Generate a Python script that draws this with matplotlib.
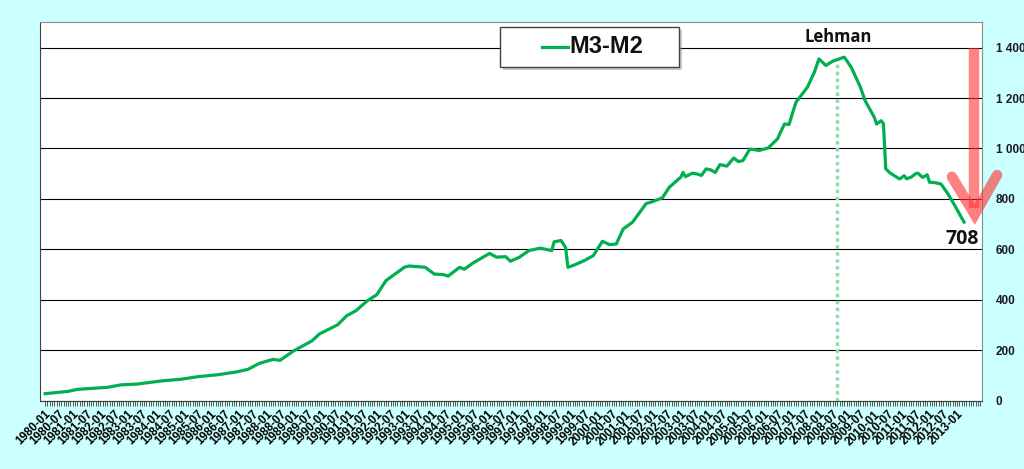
import matplotlib
matplotlib.use("Agg")
import matplotlib.pyplot as plt
from matplotlib.patches import Rectangle
from matplotlib.lines import Line2D

# M3-M2, values (month, level)
dates = ['1980-01', '1980-11', '1981-03', '1982-04', '1982-10', '1983-05', '1984-04',
         '1984-12', '1985-07', '1986-04', '1986-12', '1987-05', '1987-10', '1988-04',
         '1988-07', '1989-01', '1989-09', '1989-12', '1990-08', '1990-12', '1991-04',
         '1991-09', '1992-01', '1992-05', '1992-08', '1993-01', '1993-03', '1993-10',
         '1994-02', '1994-06', '1994-08', '1995-01', '1995-03', '1995-07', '1996-02',
         '1996-05', '1996-09', '1996-11', '1997-03', '1997-07', '1997-12', '1998-05',
         '1998-06', '1998-09', '1998-11', '1998-12', '1999-02', '1999-07', '1999-11',
         '2000-03', '2000-06', '2000-09', '2000-12', '2001-04', '2001-10', '2001-12',
         '2002-05', '2002-08', '2003-01', '2003-02', '2003-03', '2003-06', '2003-08',
         '2003-10', '2003-12', '2004-02', '2004-04', '2004-06', '2004-09', '2004-12',
         '2005-02', '2005-04', '2005-07', '2005-11', '2006-03', '2006-07', '2006-10',
         '2006-12', '2007-03', '2007-08', '2007-11', '2008-01', '2008-04', '2008-07',
         '2008-12', '2009-03', '2009-07', '2009-09', '2010-01', '2010-02', '2010-04',
         '2010-05', '2010-06', '2010-08', '2010-12', '2011-02', '2011-03', '2011-05',
         '2011-07', '2011-08', '2011-10', '2011-12', '2012-01', '2012-03', '2012-06',
         '2012-09', '2012-12', '2013-04']
values = [28, 37, 45, 53, 63, 66, 79,
          85, 95, 103, 114, 124, 148, 164,
          160, 198, 238, 264, 301, 337, 357,
          397, 420, 476, 496, 529, 534, 529,
          502, 500, 494, 529, 521, 547, 584,
          569, 571, 553, 569, 595, 605, 595,
          630, 635, 608, 529, 535, 555, 575,
          632, 619, 621, 681, 707, 782, 787,
          804, 846, 886, 905, 888, 902, 899,
          893, 919, 915, 905, 936, 930, 962,
          948, 952, 998, 992, 1002, 1038, 1097,
          1095, 1183, 1243, 1302, 1355, 1329, 1346,
          1362, 1322, 1243, 1190, 1124, 1097, 1110,
          1098, 919, 902, 879, 892, 880, 886,
          900, 902, 885, 896, 866, 865, 859,
          820, 773, 708]

lehman_date = '2008-09'
y_ticks = [0, 200, 400, 600, 800, 1000, 1200, 1400]


def month_index(s):
    y, m = s.split('-')
    return (int(y) - 1980) * 12 + int(m) - 1


x = [month_index(d) for d in dates]
label_idx = list(range(0, month_index('2013-01') + 1, 6))
labels = ['%d-%02d' % (1980 + i // 12, i % 12 + 1) for i in label_idx]

fig = plt.figure(figsize=(10.24, 4.69), dpi=100, facecolor='#ccffff')
ax = fig.add_axes([0.0391, 0.1456, 0.9199, 0.8068])
ax.set_facecolor('white')

green = '#00b050'
ax.plot(x, values, color=green, lw=2.3, solid_joinstyle='round', zorder=4)

# Lehman marker
lx = month_index(lehman_date)
ax.vlines(lx, 0, 1355, colors='#93dcaa', linestyles=(0, (1, 1)), lw=2.5, zorder=3)
ax.text(lx + 0.5, 1440, 'Lehman', ha='center', va='center', fontsize=12,
        fontweight='bold', family='Open Sans', color='#111111')

# last value label
ax.annotate(str(values[-1]), (x[-1], values[-1]), xytext=(-1, -12),
            textcoords='offset points', ha='center', va='center',
            fontsize=14, fontweight='bold', family='Open Sans', color='#111111', zorder=6)

ax.set_xlim(-2.2, 406.8)
ax.set_ylim(0, 1500)

ax.yaxis.tick_right()
ax.set_yticks(y_ticks)
ax.set_yticklabels(['{:,}'.format(v).replace(',', ' ') for v in y_ticks],
                   fontsize=8.5, fontweight='bold', family='Liberation Sans', color='#1a1a2a')
ax.tick_params(axis='y', length=0, pad=10)
ax.grid(axis='y', color='black', lw=0.8, zorder=1)
ax.set_axisbelow(True)

ax.set_xticks(range(0, 407), minor=True)
ax.set_xticks(label_idx)
ax.set_xticklabels(labels, rotation=45, ha='right', rotation_mode='anchor',
                   fontsize=8.5, fontweight='bold', family='Liberation Sans')
ax.tick_params(axis='x', which='both', length=3.5, width=0.7, color='#555555',
               direction='out', pad=2)

for side in ['top', 'right']:
    ax.spines[side].set_color('#8a8a8a')
for side in ['left', 'bottom']:
    ax.spines[side].set_color('#404040')

# red arrow
red = '#ff3333'
ax.plot([0.9915, 0.9915], [0.932, 0.51], transform=ax.transAxes, clip_on=False,
        color=red, alpha=0.6, lw=7.5, solid_capstyle='butt', zorder=7)
ax.plot([0.968, 0.9922, 1.016], [0.592, 0.492, 0.5965], transform=ax.transAxes,
        clip_on=False, color=red, alpha=0.62, lw=7.5, solid_capstyle='round',
        solid_joinstyle='miter', zorder=7)

# legend box
lx0, ly0, lw_, lh = 0.4883, 0.8578, 0.1748, 0.0853
fig.add_artist(Rectangle((lx0 + 0.003, ly0 - 0.0065), lw_, lh, transform=fig.transFigure,
                         facecolor='#999999', edgecolor='none', alpha=0.5, zorder=8))
fig.add_artist(Rectangle((lx0, ly0), lw_, lh, transform=fig.transFigure,
                         facecolor='white', edgecolor='#404040', lw=1, zorder=9))
fig.add_artist(Line2D([0.5293, 0.5547], [0.9004, 0.9004], transform=fig.transFigure,
                      color=green, lw=2.3, zorder=10))
fig.text(0.5557, 0.9004, 'M3-M2', ha='left', va='center', fontsize=17,
         fontweight='bold', family='Liberation Sans', color='#111111', zorder=10)

fig.savefig('out.png', dpi=100, facecolor=fig.get_facecolor())
